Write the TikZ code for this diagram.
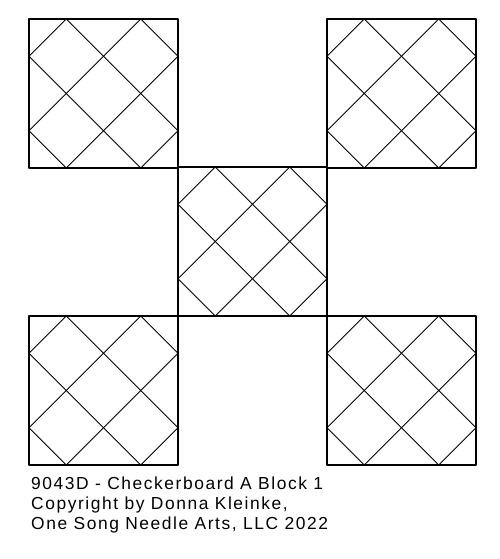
\documentclass[tikz,border=0pt]{standalone}
\usepackage{fontspec}
\setmainfont{Liberation Sans}
\newfontfamily\labelfont[LetterSpace=9]{Liberation Sans}
\begin{document}
\begin{tikzpicture}[x=1pt,y=-1pt,line join=round,line cap=round,
		block/.style={line width=1.6pt},
		grid/.style={line width=1pt},
		caption/.style={anchor=base west,inner sep=0pt,font=\labelfont\fontsize{17.4}{20}\selectfont}]
	\useasboundingbox (0,0) rectangle (500,559);
	% five blocks, side 149
	\foreach \bx/\by in {29/19,327/19,178/167,29/316,327/316}{
		\begin{scope}[shift={(\bx,\by)}]
			\draw[grid] (37.25,0)--(0,37.25) (111.75,0)--(0,111.75);
			\draw[grid] (149,37.25)--(37.25,149) (149,111.75)--(111.75,149);
			\draw[grid] (37.25,0)--(149,111.75) (111.75,0)--(149,37.25);
			\draw[grid] (0,37.25)--(111.75,149) (0,111.75)--(37.25,149);
			\draw[block] (0,0) rectangle (149,149);
		\end{scope}
	}
	\node[caption] (title) at (31,489) {9043D - Checkerboard A Block 1};
	\node[caption] (copy) at (31,509) {Copyright by Donna Kleinke,};
	\node[caption] (firm) at (31,529) {One Song Needle Arts, LLC 2022};
\end{tikzpicture}
\end{document}
